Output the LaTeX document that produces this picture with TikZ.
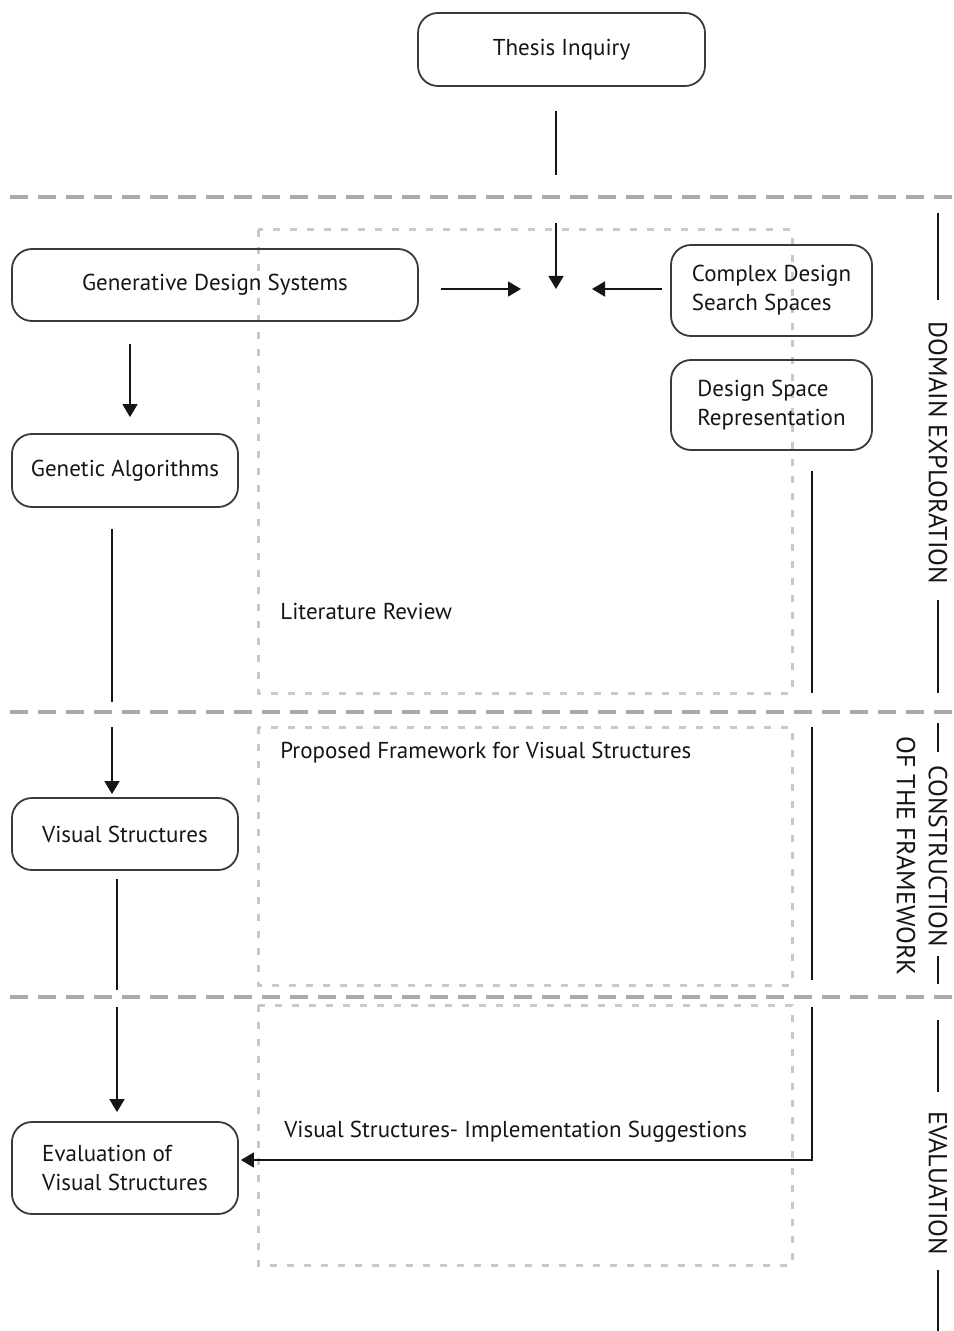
\documentclass[tikz,border=0pt]{standalone}
\usepackage{fontspec}
\setmainfont{PT Sans}
\usetikzlibrary{arrows.meta}
\tikzset{>={Triangle[width=7.5pt,length=6.5pt]}}
\definecolor{boxline}{HTML}{3A3A3A}
\definecolor{sepgray}{HTML}{AAAAAA}
\definecolor{framegray}{HTML}{C8C8C8}
\definecolor{inkgray}{HTML}{151515}

\begin{document}
\begin{tikzpicture}[x=0.5pt,y=-0.5pt,
  font=\fontsize{11.5}{14.5}\selectfont, text=inkgray,
  stage/.style={draw=boxline, line width=0.9pt, rounded corners=10pt,
    inner sep=0pt, align=left},
  link/.style={draw=inkgray, line width=0.8pt},
  arrow/.style={link, ->},
  sep/.style={draw=sepgray, line width=2pt, dash pattern=on 9pt off 5pt},
  frame/.style={draw=framegray, line width=1.5pt, dash pattern=on 3.5pt off 5pt},
  phase/.style={rotate=-90, align=center, font=\fontsize{13}{16}\selectfont},
  note/.style={anchor=west, inner sep=0pt}]

  \useasboundingbox (0,0) rectangle (953,1331);

  % separators and dotted frames
  \coordinate (sepA) at (10,197);
  \coordinate (sepB) at (10,712);
  \coordinate (sepC) at (10,997);
  \draw[sep] (sepA) -- (953,197);
  \draw[sep] (sepB) -- (953,712);
  \draw[sep] (sepC) -- (953,997);

  \draw[frame] (258,230) rectangle (792,693);
  \draw[frame] (258,727) rectangle (792,985);
  \draw[frame] (258,1005) rectangle (792,1265);

  % stages
  \node[stage, minimum width=143.5pt, minimum height=36.5pt] (thesis) at (561.5,49.5) {Thesis Inquiry};
  \node[stage, minimum width=203pt, minimum height=36pt] (gds) at (215,285) {Generative Design Systems};
  \node[stage, minimum width=100.5pt, minimum height=45.5pt] (cdss) at (771.5,290.5) {Complex Design\\Search Spaces};
  \node[stage, minimum width=100.5pt, minimum height=45pt] (dsr) at (771.5,405) {Design Space\\Representation};
  \node[stage, minimum width=113pt, minimum height=36.5pt] (ga) at (125,470.5) {Genetic Algorithms};
  \node[stage, minimum width=113pt, minimum height=36pt] (vs) at (125,834) {Visual Structures};
  \node[stage, minimum width=113pt, minimum height=46pt] (evs) at (125,1168) {Evaluation of\\Visual Structures};

  \coordinate (hub) at (556,289);

  % notes inside the frames
  \node[note] (litrev) at (280,611) {Literature Review};
  \node[note] (propfw) at (280,753) {Proposed Framework for Visual Structures};
  \node[note] (implsug) at (284,1132) {Visual Structures- Implementation Suggestions};

  % phases on the right
  \node[phase] (domain) at (938,453) {DOMAIN EXPLORATION};
  \node[phase] (constr) at (922,856) {CONSTRUCTION\\OF THE FRAMEWORK};
  \node[phase] (evalph) at (938,1183) {EVALUATION};
  \draw[link, line width=1pt] (938,213) -- (938,300);
  \draw[link, line width=1pt] (938,600) -- (938,693);
  \draw[link, line width=1pt] (938,723) -- (938,752);
  \draw[link, line width=1pt] (938,956) -- (938,984);
  \draw[link, line width=1pt] (938,1020) -- (938,1092);
  \draw[link, line width=1pt] (938,1270) -- (938,1331);

  % thesis down to the hub
  \draw[link, shorten <=12pt, shorten >=11pt] (thesis.south -| hub) -- (sepA -| hub);
  \draw[arrow, shorten <=13pt] (sepA -| hub) -- (hub);
  \draw[arrow, shorten <=11pt, shorten >=17.5pt] (gds.east |- hub) -- (hub);
  \draw[arrow, shorten <=4pt, shorten >=18pt] (cdss.west |- hub) -- (hub);

  % left column
  \draw[arrow, shorten <=11pt, shorten >=8pt] ([xshift=2.5pt]gds.south -| ga) -- ([xshift=2.5pt]ga.north);
  \draw[link, shorten <=10.5pt, shorten >=5pt] ([xshift=-6.5pt]ga.south) -- ([xshift=-6.5pt]ga.south |- sepB);
  \draw[arrow, shorten <=7.5pt, shorten >=1.5pt] ([xshift=-6.5pt]ga.south |- sepB) -- ([xshift=-6.5pt]vs.north);
  \draw[link, shorten <=4pt, shorten >=3.5pt] ([xshift=-4pt]vs.south) -- ([xshift=-4pt]vs.south |- sepC);
  \draw[arrow, shorten <=5pt, shorten >=4.5pt] ([xshift=-4pt]vs.south |- sepC) -- ([xshift=-4pt]evs.north);

  % right column back to the evaluation
  \coordinate (turn) at (812,1160);
  \draw[link, shorten <=10pt, shorten >=9.5pt] (dsr.south -| turn) -- (sepB -| turn);
  \draw[link, shorten <=7.5pt, shorten >=8.5pt] (sepB -| turn) -- (sepC -| turn);
  \draw[arrow, shorten <=5pt, shorten >=1pt] (sepC -| turn) -- (turn) -- (evs.east |- turn);

\end{tikzpicture}
\end{document}
